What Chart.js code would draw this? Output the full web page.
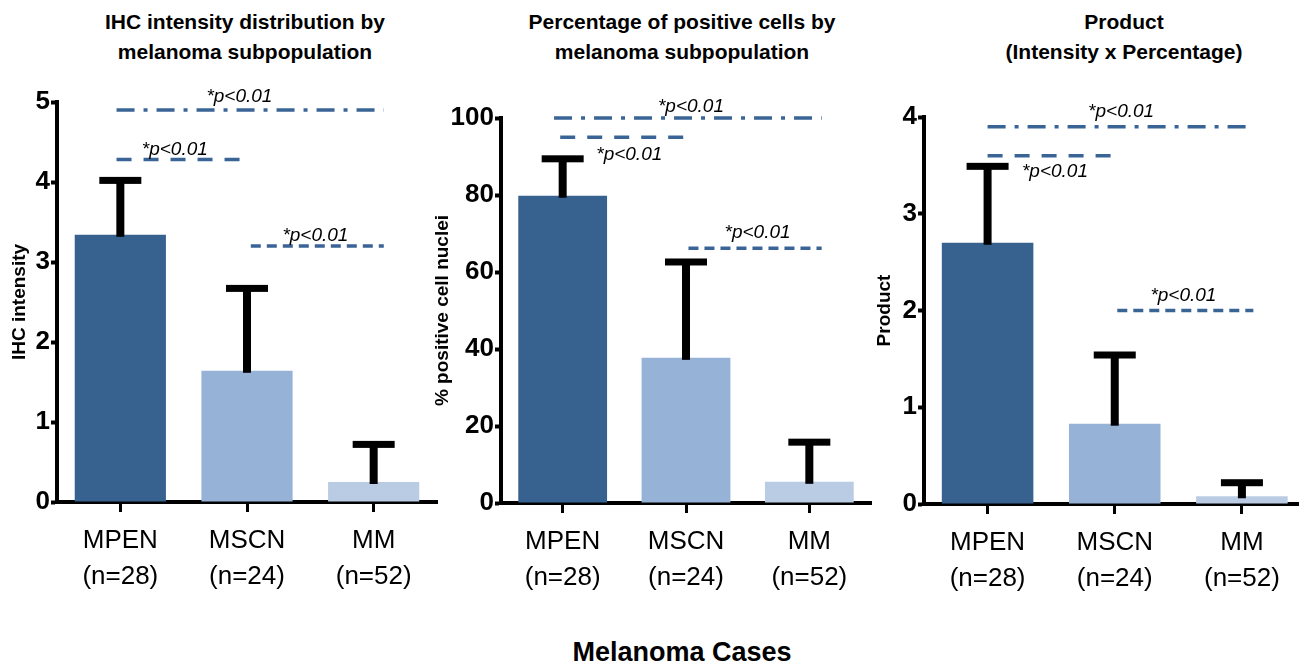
<!DOCTYPE html>
<html>
<head>
<meta charset="utf-8">
<script src="https://cdn.jsdelivr.net/npm/chart.js@4.4.1/dist/chart.umd.min.js"></script>
<style>
  html, body { margin: 0; padding: 0; width: 1299px; height: 663px; overflow: hidden; background: #fff; }
  body { position: relative; font-family: 'Liberation Sans', Arial, sans-serif; color: #000; }
  canvas { position: absolute; top: 0; }
  .title { position: absolute; top: 7px; font-weight: bold; font-size: 21px; line-height: 30px;
           text-align: center; white-space: nowrap; transform: translateX(-50%); }
  #xtitle { position: absolute; top: 637px; left: 682px; transform: translateX(-50%);
            font-weight: bold; font-size: 27px; line-height: 30px; white-space: nowrap; }
</style>
</head>
<body>
<div class="title" style="left:245px">IHC intensity distribution by<br>melanoma subpopulation</div>
<div class="title" style="left:682px">Percentage of positive cells by<br>melanoma subpopulation</div>
<div class="title" style="left:1124px">Product<br>(Intensity x Percentage)</div>
<div id="xtitle">Melanoma Cases</div>

<canvas id="c1" width="440" height="620" style="left:0px"></canvas>
<canvas id="c2" width="455" height="620" style="left:425px"></canvas>
<canvas id="c3" width="440" height="620" style="left:870px"></canvas>

<script>
// categories
const groups = [['MPEN', '(n=28)'], ['MSCN', '(n=24)'], ['MM', '(n=52)']];
const barColors = ['#37628F', '#96B3D7', '#B9CCE4'];

// IHC intensity: mean and upper error
const ihcMean = [3.34, 1.64, 0.25];
const ihcErr = [4.02, 2.67, 0.72];
// % positive cell nuclei
const pctMean = [79.8, 37.7, 5.5];
const pctErr = [89.4, 62.6, 15.8];
// product
const prodMean = [2.70, 0.83, 0.08];
const prodErr = [3.49, 1.54, 0.22];

// significance brackets: [from group, to group, level]
const ihcSig = [[-0.03, 2.08, 4.9], [-0.03, 0.96, 4.28], [1.03, 2.08, 3.2]];
const pctSig = [[-0.07, 2.1, 100], [-0.02, 1.0, 95], [1.02, 2.1, 66.2]];
const prodSig = [[0, 2.09, 3.9], [0, 0.98, 3.6], [1.02, 2.09, 2.0]];
const sigText = '*p<0.01';

// line styles for the three brackets (dash-dot, short dash, fine dash)
const sigDash = [[18, 9, 4, 9], [15, 12], [10, 6]];

const panels = [
  { id: 'c1', mean: ihcMean, err: ihcErr, sig: ihcSig, max: 5, step: 1, yTitle: 'IHC intensity',
    yWidth: 57, padTop: 102, padRight: 3, xHeight: 118, titlePad: 10,
    labels: [[0.94, -8], [0.43, -5], [1.54, -5]] },
  { id: 'c2', mean: pctMean, err: pctErr, sig: pctSig, max: 100, step: 20, yTitle: '% positive cell nuclei',
    yWidth: 76, padTop: 118, padRight: 9, xHeight: 117, titlePad: 8,
    labels: [[1.04, -6], [0.54, 23], [1.58, -10]] },
  { id: 'c3', mean: prodMean, err: prodErr, sig: prodSig, max: 4, step: 1, yTitle: 'Product',
    yWidth: 54, padTop: 117, padRight: 4.5, xHeight: 116, titlePad: 5,
    labels: [[1.05, -10], [0.53, 21], [1.54, -10]] }
];

function extrasPlugin(p) {
  return {
    id: 'extras',
    afterDatasetsDraw(chart) {
      const ctx = chart.ctx;
      const xs = chart.scales.x, ys = chart.scales.y;
      ctx.save();
      // error bars (upper only)
      chart.getDatasetMeta(0).data.forEach((bar, i) => {
        const top = ys.getPixelForValue(p.err[i]);
        ctx.fillStyle = '#000';
        ctx.fillRect(bar.x - 4, top, 8, bar.y + 2 - top);
        ctx.fillRect(bar.x - 21, top - 3.5, 42, 7);
      });
      // significance lines
      ctx.strokeStyle = '#3A6496';
      ctx.lineWidth = 3.5;
      ctx.font = 'italic 19px "Liberation Sans", Arial, sans-serif';
      ctx.textAlign = 'center';
      ctx.textBaseline = 'alphabetic';
      ctx.fillStyle = '#000';
      p.sig.forEach((s, k) => {
        const yy = ys.getPixelForValue(s[2]);
        ctx.setLineDash(sigDash[k]);
        ctx.beginPath();
        ctx.moveTo(xs.getPixelForValue(s[0]), yy);
        ctx.lineTo(xs.getPixelForValue(s[1]), yy);
        ctx.stroke();
        ctx.fillText(sigText, xs.getPixelForValue(p.labels[k][0]), yy + p.labels[k][1]);
      });
      ctx.restore();
    }
  };
}

panels.forEach(p => {
  new Chart(document.getElementById(p.id).getContext('2d'), {
    type: 'bar',
    data: {
      labels: groups,
      datasets: [{
        data: p.mean,
        backgroundColor: barColors,
        borderWidth: 0,
        barPercentage: 0.72,
        categoryPercentage: 1
      }]
    },
    options: {
      responsive: false,
      animation: false,
      devicePixelRatio: 1,
      layout: { padding: { top: p.padTop, right: p.padRight, left: 0, bottom: 0 } },
      plugins: { legend: { display: false }, tooltip: { enabled: false } },
      scales: {
        x: {
          grid: { drawOnChartArea: false, offset: false, tickLength: 10, tickWidth: 3, tickColor: '#000' },
          border: { display: true, width: 4, color: '#000' },
          ticks: { color: '#000', padding: 11, font: { family: 'Liberation Sans', size: 26, lineHeight: 1.38 } },
          afterFit: s => { s.height = p.xHeight; }
        },
        y: {
          min: 0, max: p.max,
          grid: { drawOnChartArea: false, tickLength: 6, tickWidth: 4, tickColor: '#000' },
          border: { display: true, width: 4, color: '#000' },
          ticks: { stepSize: p.step, color: '#000', padding: 1,
                   font: { family: 'Liberation Sans', size: 26, weight: 'bold' } },
          title: { display: true, text: p.yTitle, color: '#000', padding: { top: p.titlePad, bottom: 0 },
                   font: { family: 'Liberation Sans', size: 19, weight: 'bold', lineHeight: 1 } },
          afterFit: s => { s.width = p.yWidth; }
        }
      }
    },
    plugins: [extrasPlugin(p)]
  });
});
</script>
</body>
</html>
